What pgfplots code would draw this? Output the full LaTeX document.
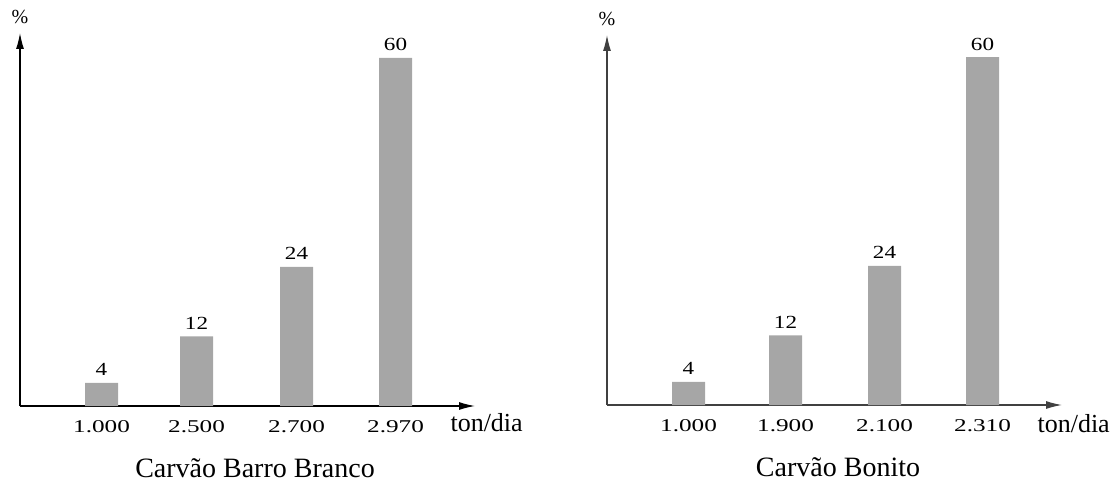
\documentclass[border=0pt]{standalone}
\usepackage{fontspec}
\usepackage{pgfplots}
\pgfplotsset{compat=1.18}
\usetikzlibrary{arrows.meta}
\setmainfont{Liberation Serif}
\newfontfamily\tickfont[FakeStretch=1.4]{Liberation Serif}
\newfontfamily\valfont[FakeStretch=1.25]{Liberation Serif}
\definecolor{barcol}{RGB}{166,166,166}
\pgfplotsset{
  panel/.style={
    scale only axis,
    width=455pt,
    height=373pt,
    xmin=0, xmax=4.55,
    ymin=0, ymax=64.31,
    axis lines=left,
    axis line style={line width=1.2pt,-{Latex[length=16pt,width=8pt]}},
    ytick=\empty,
    major tick length=0pt,
    xticklabel style={anchor=base,yshift=-26pt,font=\tickfont\fontsize{18}{20}\selectfont},
    clip=false,
    ybar,
    bar width=33pt,
    nodes near coords,
    /pgf/number format/assume math mode=true,
    nodes near coords style={anchor=base,yshift=7pt,font=\valfont\fontsize{18.5}{20}\selectfont},
    anchor=south west,
  }
}
\begin{document}
\begin{tikzpicture}
\useasboundingbox (0,0) rectangle (1116pt,482pt);
\begin{axis}[panel, at={(20pt,76pt)},
  xtick={0.815,1.765,2.765,3.755},
  xticklabels={1.000,2.500,2.700,2.970}]
\addplot[fill=barcol,draw=none] coordinates {(0.815,4) (1.765,12) (2.765,24) (3.755,60)};
\node[font=\fontsize{20}{22}\selectfont] at (rel axis cs:0,1) [yshift=16pt] {\%};
\node[font=\fontsize{26}{28}\selectfont,anchor=base west] at (rel axis cs:1,0) [xshift=-28pt,yshift=-25pt] {ton/dia};
\node[font=\fontsize{28}{30}\selectfont,anchor=base] at (axis cs:2.35,0) [yshift=-71pt] {Carvão Barro Branco};
\end{axis}
\begin{axis}[panel, at={(607pt,77pt)}, height=370pt, ymax=63.8,
  axis line style={line width=1.2pt,draw=black!75,-{Latex[length=16pt,width=8pt]}},
  xtick={0.815,1.785,2.775,3.755},
  xticklabels={1.000,1.900,2.100,2.310}]
\addplot[fill=barcol,draw=none] coordinates {(0.815,4) (1.785,12) (2.775,24) (3.755,60)};
\node[font=\fontsize{20}{22}\selectfont] at (rel axis cs:0,1) [yshift=16pt] {\%};
\node[font=\fontsize{26}{28}\selectfont,anchor=base west] at (rel axis cs:1,0) [xshift=-28pt,yshift=-27pt] {ton/dia};
\node[font=\fontsize{28}{30}\selectfont,anchor=base] at (axis cs:2.31,0) [yshift=-71pt] {Carvão Bonito};
\end{axis}
\end{tikzpicture}
\end{document}
